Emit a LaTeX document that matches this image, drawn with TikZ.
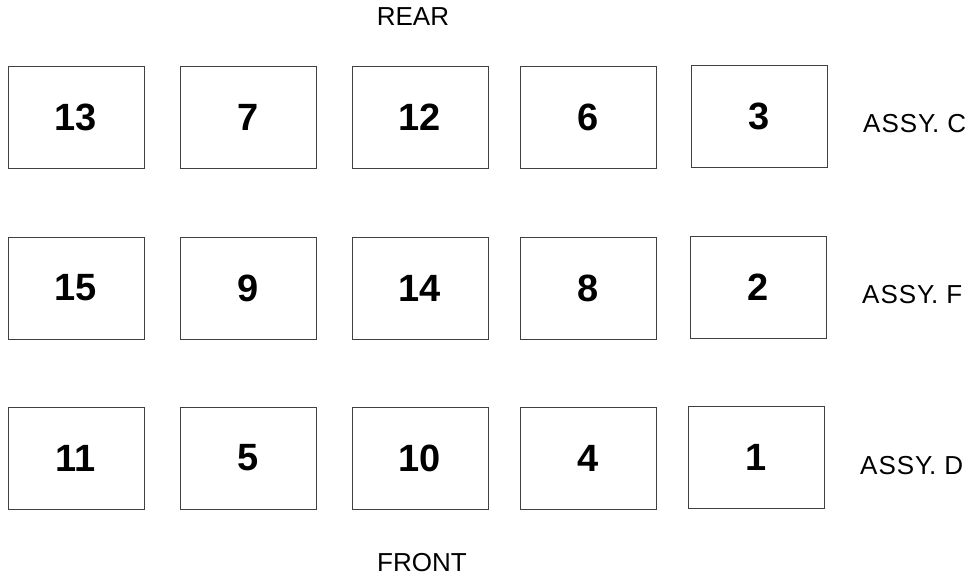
\documentclass[tikz,border=0pt]{standalone}
\usepackage{fontspec}
\setmainfont{Liberation Sans}
\begin{document}
\begin{tikzpicture}[x=1pt,y=-1pt,
  cell/.style={draw=black!75,line width=0.9pt,minimum width=136pt,minimum height=102pt,inner sep=0pt,font=\fontsize{38}{40}\selectfont\bfseries},
  lbl/.style={font=\fontsize{26}{28}\selectfont,inner sep=0pt},
  side/.style={lbl,anchor=west}]
\useasboundingbox (0,0) rectangle (975,578);
\node[lbl] (rear) at (413,17) {REAR};
\node[lbl] (front) at (422,563) {FRONT};
% row 1
\node[cell] (b13) at (76,117) {13};
\node[cell] (b7) at (248,117) {7};
\node[cell] (b12) at (420,117) {12};
\node[cell] (b6) at (588,117) {6};
\node[cell] (b3) at (759,116) {3};
\node[side] (ac) at (863,124) {A\kern1ptS\kern1ptS\kern1ptY.\hspace{8pt}C};
% row 2
\node[cell] (b15) at (76,288) {15};
\node[cell] (b9) at (248,288) {9};
\node[cell] (b14) at (420,288) {14};
\node[cell] (b8) at (588,288) {8};
\node[cell] (b2) at (758,287) {2};
\node[side] (af) at (862,295) {A\kern1ptS\kern1ptS\kern1ptY.\hspace{8pt}F};
% row 3
\node[cell] (b11) at (76,458) {11};
\node[cell] (b5) at (248,458) {5};
\node[cell] (b10) at (420,458) {10};
\node[cell] (b4) at (588,458) {4};
\node[cell] (b1) at (756,457) {1};
\node[side] (ad) at (860,466) {A\kern1ptS\kern1ptS\kern1ptY.\hspace{8pt}D};
\end{tikzpicture}
\end{document}
